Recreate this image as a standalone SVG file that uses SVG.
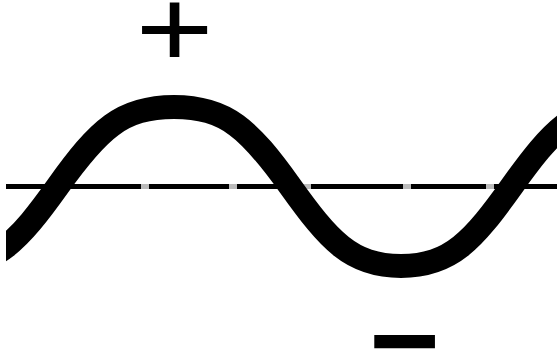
<svg xmlns="http://www.w3.org/2000/svg" width="557" height="355" viewBox="0 0 557 355">
  <defs>
    <clipPath id="clip"><rect x="6" y="0" width="551" height="355"/></clipPath>
    <style>
      .sym { font-family: "Liberation Sans", Arial, sans-serif; fill: #000; text-anchor: middle; }
      .axis-base { stroke: #bbb; stroke-width: 5; fill: none; }
      .axis { stroke: #000; stroke-width: 5; fill: none; }
      .wave { stroke: #000; stroke-width: 24; fill: none; }
    </style>
  </defs>
  <rect width="557" height="355" fill="#fff"/>
  <g id="connectors" clip-path="url(#clip)">
    <line class="axis-base" x1="6" y1="186.5" x2="557" y2="186.5"/>
    <line class="axis" x1="6" y1="186.5" x2="557" y2="186.5" stroke-dasharray="135 8 80 8 66 8 92 8 75 8 200"/>
  </g>
  <g id="wave" clip-path="url(#clip)">
    <path class="wave" d="M -55 266 C -4 266 18.4 241.4 58 186 C 98.6 129.2 121.8 107 174 107 C 226.2 107 249.4 129.2 290 186 C 328.9 240.4 351 266 401 266 C 451 266 473.1 240.4 512 186 C 551.6 130.6 574.1 106 625 106"/>
  </g>
  <g id="plus">
    <text class="sym" font-size="134" transform="translate(174.5,66.7) scale(1,0.83)">+</text>
  </g>
  <g id="minus">
    <text class="sym" font-size="121" font-weight="bold" transform="translate(404.5,382)">−</text>
  </g>
</svg>
